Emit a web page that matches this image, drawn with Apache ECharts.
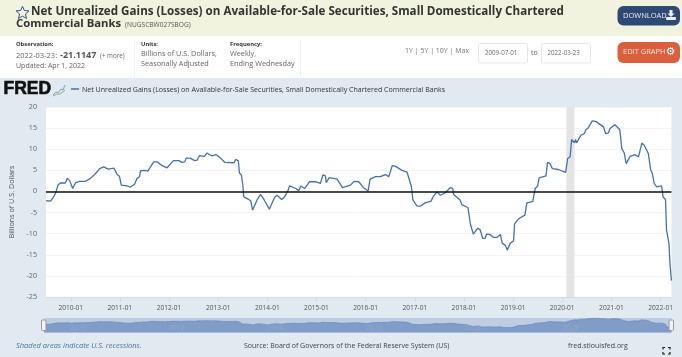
<!DOCTYPE html>
<html>
<head>
<meta charset="utf-8">
<style>html,body{margin:0;padding:0;background:#e1e9f1}#c{width:682px;height:357px;filter:blur(0.3px)}</style>
<script src="https://cdn.jsdelivr.net/npm/echarts@6/dist/echarts.min.js"></script>
</head>
<body>
<div id="c"></div>
<script>
var obsYears = [2009.50,2009.59,2009.66,2009.70,2009.74,2009.79,2009.89,2009.93,2009.98,2010.04,2010.10,2010.18,2010.30,2010.40,2010.50,2010.59,2010.67,2010.76,2010.88,2010.94,2010.99,2011.03,2011.15,2011.21,2011.30,2011.35,2011.40,2011.42,2011.52,2011.57,2011.62,2011.69,2011.76,2011.86,2011.96,2011.99,2012.09,2012.20,2012.26,2012.32,2012.35,2012.43,2012.52,2012.57,2012.62,2012.72,2012.77,2012.87,2012.96,2013.04,2013.13,2013.32,2013.36,2013.41,2013.43,2013.47,2013.50,2013.52,2013.59,2013.66,2013.70,2013.74,2013.79,2013.86,2013.93,2013.97,2014.04,2014.08,2014.15,2014.20,2014.29,2014.35,2014.42,2014.45,2014.58,2014.64,2014.68,2014.76,2014.86,2014.98,2015.08,2015.13,2015.18,2015.20,2015.26,2015.42,2015.53,2015.69,2015.77,2015.86,2015.96,2016.05,2016.09,2016.20,2016.30,2016.40,2016.47,2016.54,2016.60,2016.74,2016.84,2016.89,2016.93,2016.96,2017.04,2017.11,2017.21,2017.33,2017.38,2017.45,2017.52,2017.62,2017.72,2017.77,2017.79,2017.92,2017.96,2018.08,2018.13,2018.19,2018.28,2018.33,2018.38,2018.43,2018.46,2018.53,2018.60,2018.67,2018.74,2018.78,2018.84,2018.88,2018.94,2019.01,2019.03,2019.12,2019.24,2019.28,2019.40,2019.45,2019.50,2019.53,2019.67,2019.70,2019.75,2019.80,2019.92,2020.07,2020.11,2020.16,2020.19,2020.25,2020.27,2020.29,2020.33,2020.38,2020.45,2020.48,2020.53,2020.61,2020.68,2020.84,2020.88,2020.94,2020.97,2021.07,2021.17,2021.21,2021.26,2021.30,2021.34,2021.38,2021.48,2021.55,2021.58,2021.62,2021.67,2021.75,2021.80,2021.83,2021.87,2021.92,2022.02,2022.05,2022.10,2022.12,2022.17,2022.19,2022.22];
var gains = [-2.2,-2.3,-1.1,-0.1,1.5,2.0,2.0,3.1,2.5,0.7,2.1,2.4,2.4,3.1,4.2,5.4,5.8,5.3,5.5,4.1,3.6,1.5,1.3,1.0,1.7,3.1,3.5,4.9,5.0,4.8,5.8,7.0,7.0,6.1,5.6,5.6,7.3,7.3,6.9,7.0,7.9,7.9,7.3,7.4,8.5,8.3,9.1,8.4,8.7,8.0,6.9,6.8,7.6,7.2,4.4,3.9,1.5,-1.3,-1.7,-2.2,-4.4,-4.3,-2.0,-0.7,-1.9,-2.0,-4.2,-3.8,-1.3,-0.9,-1.9,-1.3,0.2,1.3,0.7,0.2,1.3,0.7,2.3,2.3,1.9,3.9,3.7,2.1,3.3,2.9,0.9,1.5,2.4,2.3,0.9,0.1,2.9,3.5,3.5,4.0,3.5,6.1,6.0,5.0,4.6,2.7,1.1,-2.0,-3.4,-3.5,-2.7,-2.3,-1.1,-0.1,-0.9,-0.3,0.9,0.7,-0.7,-2.0,-3.2,-3.8,-7.7,-10.1,-8.7,-9.1,-11.1,-11.1,-10.1,-10.2,-10.9,-10.9,-10.2,-12.3,-12.7,-13.9,-12.3,-11.7,-7.7,-6.4,-5.6,-2.7,-2.4,0.7,1.3,3.2,3.7,6.9,6.6,5.4,5.2,4.5,7.8,8.2,12.3,11.5,12.3,11.5,11.5,13.3,13.7,14.6,15.1,16.7,16.6,15.3,13.7,13.9,14.9,15.8,14.6,10.2,9.1,6.6,6.5,8.3,8.7,8.2,8.6,11.5,10.9,9.0,5.0,4.3,1.9,1.1,1.3,-1.3,-1.9,-9.1,-12.3,-17.0,-21.1147];
var tickYears = [2010,2011,2012,2013,2014,2015,2016,2017,2018,2019,2020,2021,2022];
var navYears = [2010,2012,2014,2016,2018,2020];
var recession = ['2020-02-01','2020-04-01'];

var FONT = '"Open Sans"';
function toTime(y){
  var yr = Math.floor(y), a = Date.UTC(yr,0,1), b = Date.UTC(yr+1,0,1);
  return a + (y-yr)*(b-a);
}
var lineData = obsYears.map(function(y,i){return [toTime(y), gains[i]];});
var startT = Date.UTC(2009,6,1), endT = Date.UTC(2022,2,23);

function txt(x,y,s,size,color,extra){
  var st = {x:x,y:y,text:s,fontSize:size,fill:color,fontFamily:FONT,verticalAlign:'middle'};
  for (var k in (extra||{})) st[k]=extra[k];
  return {type:'text',silent:true,z:20,style:st};
}
function box(x,y,w,h,fill,r,stroke){
  return {type:'rect',silent:true,z:10,shape:{x:x,y:y,width:w,height:h,r:r||0},style:{fill:fill,stroke:stroke||null,lineWidth:stroke?1:0}};
}
function poly(pts,stroke,width){
  return {type:'polyline',silent:true,z:20,shape:{points:pts},style:{stroke:stroke,fill:null,lineWidth:width}};
}
function starPoints(cx,cy,R,r){
  var p=[]; for(var i=0;i<=10;i++){var a=-Math.PI/2+i*Math.PI/5,q=i%2?r:R;p.push([cx+q*Math.cos(a),cy+q*Math.sin(a)]);} return p;
}
var els = [
  box(0,0,682,36,'#f2f3de'),
  box(0,36,682,42,'#ffffff'),
  box(134,41,1,36,'#eef1f4'),
  box(300,41,1,36,'#eef1f4'),
  poly(starPoints(22.5,13,6.8,3.1),'#34558b',1),
  txt(31,12,'Net Unrealized Gains (Losses) on Available-for-Sale Securities, Small Domestically Chartered',11.65,'#333333',{fontWeight:'bold'}),
  txt(16,24,'Commercial Banks',11.3,'#333333',{fontWeight:'bold'}),
  txt(125,25.5,'(NUGSCBW027SBOG)',6.6,'#555555'),
  box(617.5,6,62.5,19.5,'#2c4a74',6),
  txt(623,16,'DOWNLOAD',7.5,'#e8eef5'),
  {type:'polygon',silent:true,z:20,shape:{points:[[669.5,10],[672.5,10],[672.5,13.5],[674.5,13.5],[671,17],[667.5,13.5],[669.5,13.5]]},style:{fill:'#e8eef5'}},
  box(666,17,10,3,'#e8eef5',1),
  box(617.5,42,62.5,21,'#dc5f3d',6),
  txt(623,52,'EDIT GRAPH',7.5,'#f8e6df'),
  txt(665.5,52,'\u2699',11,'#ffffff',{fontFamily:'"DejaVu Sans"'}),
  txt(16,44.5,'Observation:',5.8,'#333333',{fontWeight:'bold'}),
  txt(16,55.5,'2022-03-23:',7.5,'#666666'),
  txt(60,55,'-21.1147',9,'#555555',{fontWeight:'bold'}),
  txt(100,56,'(+ more)',6.3,'#666666'),
  txt(16,66,'Updated: Apr 1, 2022',7,'#666666'),
  txt(141,44.5,'Units:',5.8,'#333333',{fontWeight:'bold'}),
  txt(141,54,'Billions of U.S. Dollars,',7.3,'#666666'),
  txt(141,63.5,'Seasonally Adjusted',7.3,'#666666'),
  txt(230,44.5,'Frequency:',5.8,'#333333',{fontWeight:'bold'}),
  txt(230,54,'Weekly,',7.3,'#666666'),
  txt(230,63.5,'Ending Wednesday',7.3,'#666666'),
  txt(405,50.5,'1Y | 5Y | 10Y | Max',7,'#777777'),
  box(478.5,43.5,49,19.5,'#ffffff',2,'#e6e6e6'),
  box(541.5,43.5,49,19.5,'#ffffff',2,'#e6e6e6'),
  txt(485,53.5,'2009-07-01',6.2,'#666666'),
  txt(547.5,53.5,'2022-03-23',6.2,'#666666'),
  txt(531,52.5,'to',7,'#666666'),
  txt(3.5,89,'FRED',17.5,'#111111',{fontWeight:'900',fontFamily:'"Liberation Sans"',stroke:'#111111',lineWidth:0.6}),
  poly([[53,95],[56,92],[58,93],[61,89],[63,90],[65,85]],'#7fa0c0',1),
  poly([[53,96],[57,94],[60,94],[65,90]],'#8fb07a',1),
  {type:'line',silent:true,z:20,shape:{x1:71,y1:89,x2:79,y2:89},style:{stroke:'#4572a7',lineWidth:1.5}},
  txt(82,89.5,'Net Unrealized Gains (Losses) on Available-for-Sale Securities, Small Domestically Chartered Commercial Banks',7.05,'#333333'),
  txt(16,346,'Shaded areas indicate U.S. recessions.',7.5,'#4f74aa',{fontStyle:'italic'}),
  txt(244,346,'Source: Board of Governors of the Federal Reserve System (US)',7,'#444444'),
  txt(568,346,'fred.stlouisfed.org',7,'#444444'),
  box(41.5,320,4.5,10.5,'#f2f2f2',1,'#999999'),
  box(669,320,4.5,10.5,'#f2f2f2',1,'#999999'),
  poly([[663,349.5],[663,347.5],[665,347.5]],'#222222',1.2),
  poly([[668,347.5],[670,347.5],[670,349.5]],'#222222',1.2),
  poly([[663,352],[663,354],[665,354]],'#222222',1.2),
  poly([[668,354],[670,354],[670,352]],'#222222',1.2)
];

var chart = echarts.init(document.getElementById('c'),null,{renderer:'canvas'});
chart.setOption({
  animation:false,
  backgroundColor:'#e1e9f1',
  graphic:{elements:els},
  grid:[
    {left:44,right:10.5,top:107,height:190,backgroundColor:'#ffffff',show:true,borderWidth:0},
    {left:44,right:10.5,top:318,height:14.5,backgroundColor:'#bfcde3',show:true,borderWidth:0}
  ],
  xAxis:[{
    type:'value',gridIndex:0,min:startT,max:endT,
    axisLine:{show:true,onZero:false,lineStyle:{color:'#cfdcea',width:1}},
    axisTick:{show:true,length:5,lineStyle:{color:'#cfdcea'},customValues:tickYears.map(function(y){return Date.UTC(y,0,1);})},
    axisLabel:{show:true,margin:8,fontSize:6.6,color:'#555555',fontFamily:FONT,hideOverlap:false,showMinLabel:true,showMaxLabel:true,
      customValues:tickYears.map(function(y){return Date.UTC(y,0,1);}),
      formatter:function(v){return new Date(v).getUTCFullYear()+'-01';}},
    splitLine:{show:false}
  },{
    type:'value',gridIndex:1,min:startT,max:endT,z:4,
    axisLine:{show:false,onZero:false},axisTick:{show:false},
    axisLabel:{show:true,inside:true,margin:1,fontSize:7.2,color:'#93a7c6',fontFamily:FONT,hideOverlap:false,
      customValues:navYears.map(function(y){return Date.UTC(y,2,10);}),
      formatter:function(v){return String(new Date(v).getUTCFullYear());}},
    splitLine:{show:false}
  }],
  yAxis:[{
    type:'value',gridIndex:0,min:-25,max:20,interval:5,
    name:'Billions of U.S. Dollars',nameLocation:'middle',nameGap:31,nameRotate:90,
    nameTextStyle:{fontSize:7.2,color:'#555555',fontFamily:FONT},
    axisLine:{show:false},axisTick:{show:false},
    axisLabel:{margin:9,fontSize:7.2,color:'#666666',fontFamily:FONT},
    splitLine:{show:true,lineStyle:{color:'#f3f3f3',width:1}}
  },{
    type:'value',gridIndex:1,min:-28,max:17.5,show:false,splitLine:{show:false}
  }],
  series:[{
    type:'line',xAxisIndex:0,yAxisIndex:0,data:lineData,showSymbol:false,symbol:'none',
    lineStyle:{color:'#4572a7',width:1.3},z:5,
    markArea:{silent:true,z:1,itemStyle:{color:'#e4e4e4'},data:[[{xAxis:Date.parse(recession[0])},{xAxis:Date.parse(recession[1])}]]},
    markLine:{silent:true,symbol:'none',z:6,label:{show:false},lineStyle:{color:'#111111',width:1.5,type:'solid'},data:[{yAxis:0}]}
  },{
    type:'line',xAxisIndex:1,yAxisIndex:1,data:lineData,showSymbol:false,symbol:'none',
    lineStyle:{color:'#6d8fbf',width:0.8},areaStyle:{color:'#7f9dc8',opacity:1,origin:'start'},z:2
  }]
});
</script>
</body>
</html>
